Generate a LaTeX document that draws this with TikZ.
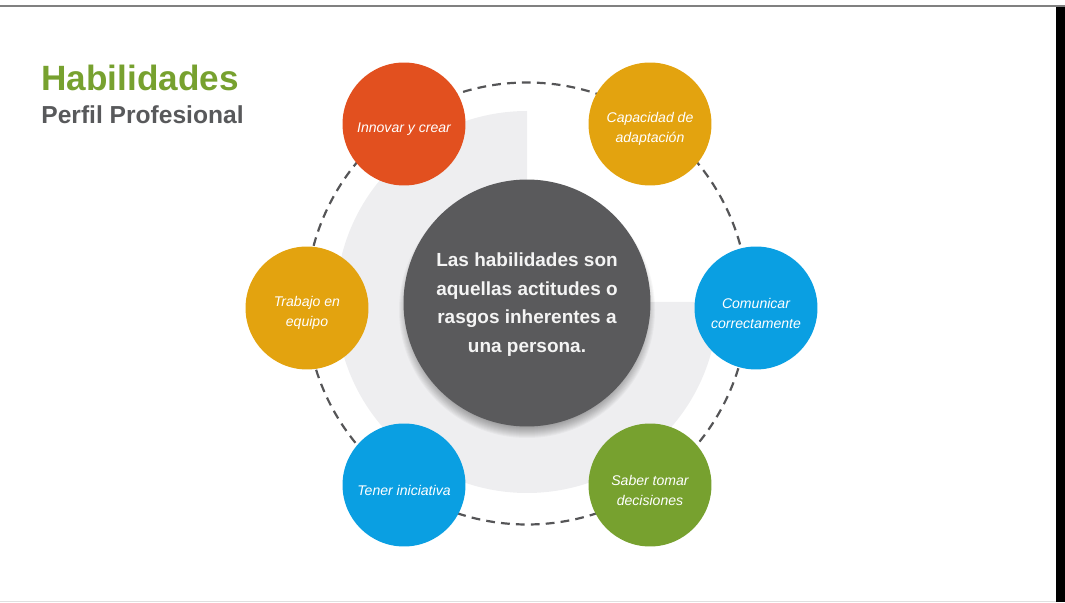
\documentclass[tikz,border=0pt]{standalone}
\usepackage{fontspec}
\setmainfont{Liberation Sans}
\definecolor{habred}{HTML}{E2501F}
\definecolor{habyellow}{HTML}{E3A30F}
\definecolor{habblue}{HTML}{0A9FE2}
\definecolor{habgreen}{HTML}{77A12F}
\definecolor{habdark}{HTML}{5A5A5C}
\definecolor{habtitle}{HTML}{58595B}
\definecolor{habring}{HTML}{EEEEF0}
\definecolor{habdash}{HTML}{555557}

\begin{document}
\begin{tikzpicture}[x=0.02cm, y=0.02cm]
   \tikzset{SkillStyle/.style={circle, minimum size=2.46cm, inner sep=0pt}}
   \tikzset{SkillText/.style={inner sep=0pt, text=white!92, align=center,
      font=\fontsize{8}{11.3}\selectfont\itshape}}
   \tikzset{CoreStyle/.style={circle, fill=habdark, minimum size=4.94cm, inner sep=0pt,
      text=white!93!habdark, align=center, font=\fontsize{10.8}{16.3}\selectfont\bfseries}}
   \useasboundingbox (0,0) rectangle (1065,602);
   % frame of the screenshot
   \draw[gray, line width=0.8pt] (0,596) -- (1065,596);
   \fill[black] (1056,0) rectangle (1065,595);
   \draw[black!12, line width=0.5pt] (0,1) -- (1056,1);
   % title
   \node[anchor=base west, inner sep=0pt, text=habgreen, font=\fontsize{20}{24}\selectfont\bfseries]
      (title) at (41,511) {Habilidades};
   \node[anchor=base west, inner sep=0pt, text=habtitle, font=\fontsize{14}{17}\selectfont\bfseries]
      (subtitle) at (41,478) {Perfil Profesional};
   % light ring behind
   \fill[habring] (527,300) -- (527,491) arc[start angle=90, end angle=360, radius=191] -- cycle;
   % dashed orbit
   \draw[habdash, line width=1.25pt, dash pattern=on 5pt off 3.5pt] (527,298.5) circle[radius=221];
   % soft shadow under the centre
   \foreach \s in {0,1,...,11}
      \fill[black, opacity=0.03] (527,292) circle[radius=117+\s];
   \node[CoreStyle] (core) at (527,299) {};
   \node[SkillText, font=\fontsize{10.8}{16.3}\selectfont\bfseries, text=white!93!habdark]
      (core-text) at ([yshift=-1pt]core.center)
      {Las habilidades son\\aquellas actitudes o\\rasgos inherentes a\\una persona.};
   % skills
   \foreach \n/\px/\py/\c/\t in {
      innovar/404/478/habred/{Innovar y crear},
      capacidad/650/478/habyellow/{Capacidad de\\adaptación},
      trabajo/307/294/habyellow/{Trabajo en\\equipo},
      comunicar/756/294/habblue/{Comunicar\\correctamente},
      tener/404/117/habblue/{Tener iniciativa},
      saber/650/117/habgreen/{Saber tomar\\decisiones}}
   {
      \node[SkillStyle, fill=\c] (\n) at (\px,\py) {};
      \node[SkillText] (\n-text) at ([yshift=-3pt]\n.center) {\t};
   }
\end{tikzpicture}
\end{document}
